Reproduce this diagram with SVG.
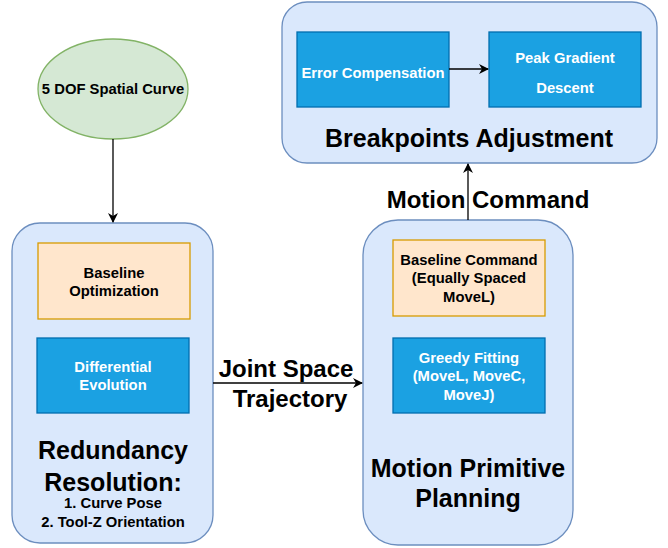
<svg xmlns="http://www.w3.org/2000/svg" width="668" height="548" viewBox="0 0 668 548">
<defs>
<marker id="arr" markerWidth="10" markerHeight="10" refX="9" refY="5" orient="auto" markerUnits="userSpaceOnUse">
<path d="M0,0 L10,5 L0,10 L3,5 Z" fill="#000"/>
</marker>
<style>
text{font-family:"Liberation Sans",Arial,sans-serif;font-weight:bold;text-anchor:middle;dominant-baseline:central}
.cont{fill:#dae8fc;stroke:#6c8ebf;stroke-width:1.3}
.org{fill:#ffe6cc;stroke:#d79b00;stroke-width:1.3}
.blu{fill:#1ba1e2;stroke:#006eaf;stroke-width:1.3}
.s{font-size:14.8px;fill:#000}
.w{font-size:14.8px;fill:#fff}
.b{font-size:25px;fill:#000}
.l{font-size:24px;fill:#000}
.m{font-size:14.8px;fill:#000}
.e{stroke:#000;stroke-width:1.3;fill:none;marker-end:url(#arr)}
</style>
</defs>
<rect width="668" height="548" fill="#fff"/>
<g id="curve">
<ellipse cx="113" cy="89" rx="75" ry="50" fill="#d5e8d4" stroke="#82b366" stroke-width="1.3"/>
<text class="s" x="113" y="89">5 DOF Spatial Curve</text>
</g>
<g id="redundancy">
<rect class="cont" x="12" y="223" width="201" height="320" rx="28"/>
<text class="b" x="113" y="450">Redundancy</text>
<text class="b" x="113" y="482">Resolution:</text>
<text class="m" x="113" y="503">1. Curve Pose</text>
<text class="m" x="113" y="522">2. Tool-Z Orientation</text>
</g>
<g id="baseline-opt">
<rect class="org" x="38" y="243" width="152" height="76"/>
<text class="s" x="114" y="273">Baseline</text>
<text class="s" x="114" y="291">Optimization</text>
</g>
<g id="diff-evo">
<rect class="blu" x="37" y="338" width="152" height="75"/>
<text class="w" x="113" y="367">Differential</text>
<text class="w" x="113" y="385">Evolution</text>
</g>
<g id="mpp">
<rect class="cont" x="363" y="220" width="210" height="325" rx="35"/>
<text class="b" x="468" y="468">Motion Primitive</text>
<text class="b" x="468" y="498">Planning</text>
</g>
<g id="baseline-cmd">
<rect class="org" x="393" y="240" width="152" height="76"/>
<text class="s" x="469" y="260">Baseline Command</text>
<text class="s" x="469" y="278">(Equally Spaced</text>
<text class="s" x="469" y="297">MoveL)</text>
</g>
<g id="greedy">
<rect class="blu" x="393" y="338" width="152" height="75"/>
<text class="w" x="469" y="358">Greedy Fitting</text>
<text class="w" x="469" y="376">(MoveL, MoveC,</text>
<text class="w" x="469" y="395">MoveJ)</text>
</g>
<g id="breakpoints">
<rect class="cont" x="282" y="2" width="375" height="161" rx="25"/>
<text class="b" x="469" y="138">Breakpoints Adjustment</text>
</g>
<g id="error-comp">
<rect class="blu" x="297" y="32" width="152" height="75"/>
<text class="w" x="373" y="73">Error Compensation</text>
</g>
<g id="peak-grad">
<rect class="blu" x="489" y="32" width="152" height="75"/>
<text class="w" x="565" y="58">Peak Gradient</text>
<text class="w" x="565" y="88">Descent</text>
</g>
<g id="connectors">
<path class="e" d="M113,139 V222"/>
<path class="e" d="M213,383 H362"/>
<path class="e" d="M468,220 V164"/>
<path class="e" d="M449,69 H488"/>
<text class="l" x="286" y="368">Joint Space</text>
<text class="l" x="290" y="398">Trajectory</text>
<text class="l" x="488" y="199">Motion Command</text>
</g>
</svg>
